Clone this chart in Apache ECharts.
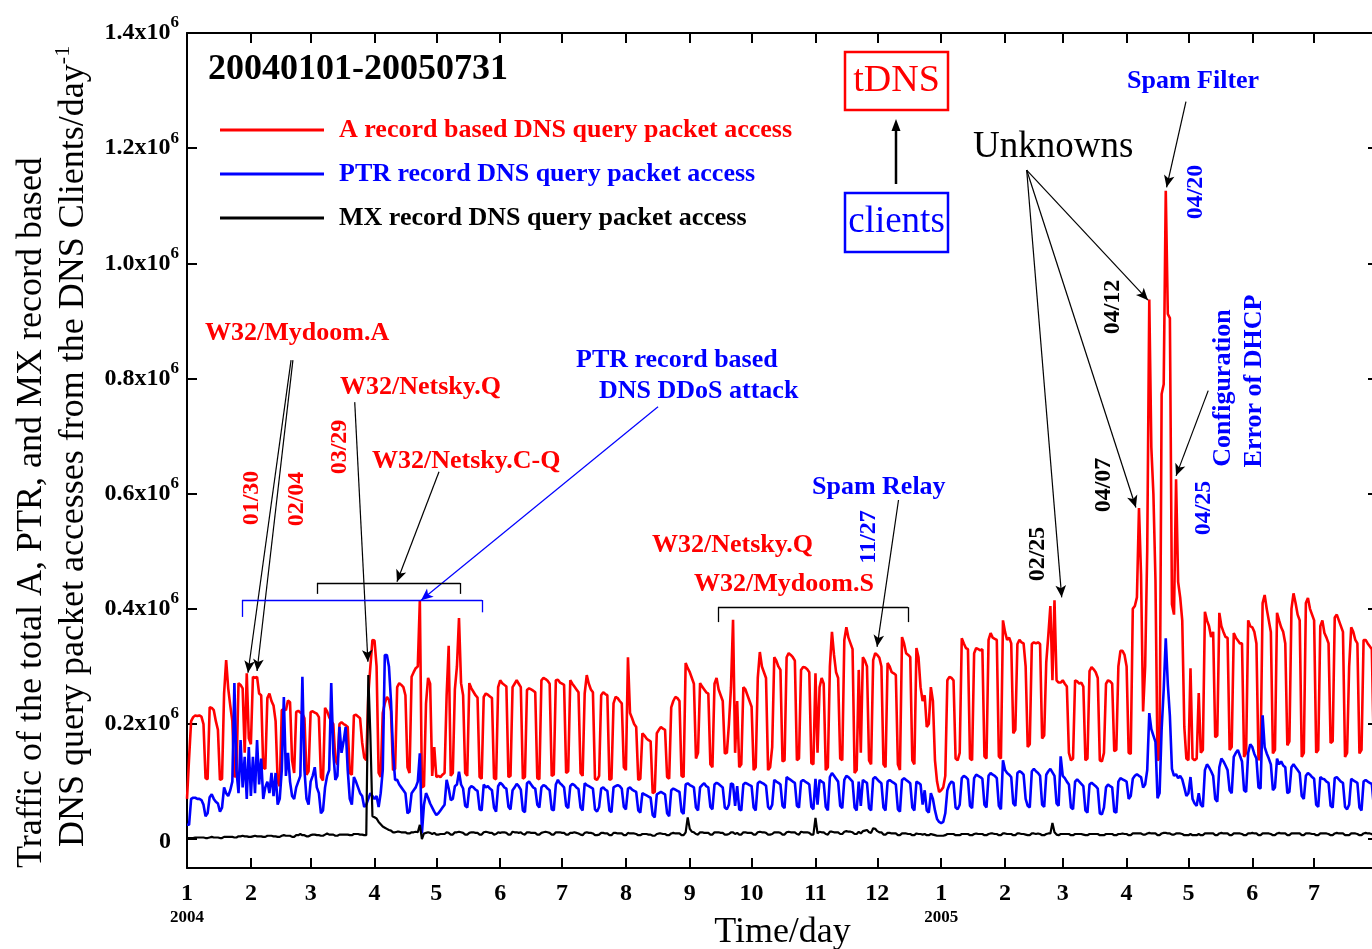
<!DOCTYPE html>
<html><head><meta charset="utf-8">
<script src="https://cdn.jsdelivr.net/npm/echarts@6/dist/echarts.min.js"></script>
<style>html,body{margin:0;padding:0;background:#fff}#c{width:1372px;height:949px}</style>
</head><body><div id="c"></div>
<script>
const SERIF = "'Liberation Serif','Times New Roman',serif";

// x axis: day offset from 2004-01-01; month-start ticks and labels
const monthStartDays = [0,31,60,91,121,152,182,213,244,274,305,335,366,397,425,456,486,517,547,578];
const monthLabels = ['1','2','3','4','5','6','7','8','9','10','11','12','1','2','3','4','5','6','7','8'];
const yearLabels = {0:'2004', 366:'2005'};
// y axis ticks (thousands of packets per day)
const yTickValues = [0,200,400,600,800,1000,1200,1400];

const seriesNames = ['A record based DNS query packet access','PTR record DNS query packet access','MX record DNS query packet access'];

// ---- A record (thousands/day). Head: Thu 2004-01-01 .. Sun 01-04; then weeks Mon..Sun ----
const aRecordHead = [70,140,205,212];
const aRecordWeeks = [
[215,214,215,213,200,106,104],[229,228,224,205,190,103,105],[253,311,262,232,205,108,112],[271,268,262,150,288,175,165],
[282,280,282,253,250,125,122],[245,253,240,232,205,100,92],[224,226,224,241,238,137,115],[221,223,220,218,210,112,118],
[221,222,220,218,212,108,102],[228,222,212,205,200,138,130],[200,203,200,198,195,115,112],[215,216,213,210,168,142,137],
[252,300,346,345,300,115,108],[219,236,247,242,222,120,122],[264,271,268,264,250,125,115],[282,290,297,300,415,90,92],
[236,280,270,110,160,108,110],[108,112,115,250,336,110,115],[260,300,384,271,250,115,110],[271,262,256,250,246,108,105],
[247,253,251,248,245,106,104],[264,276,271,268,265,108,110],[264,270,276,270,264,105,108],[259,262,260,258,255,106,104],
[276,280,278,275,270,110,112],[276,277,272,270,268,115,118],[276,270,265,260,255,115,110],[253,285,270,260,255,105,103],
[110,250,255,252,250,103,105],[236,247,245,240,236,125,120],[316,219,210,200,195,103,105],[184,180,175,172,170,80,82],
[184,190,195,192,190,108,105],[229,240,247,245,240,110,108],[306,297,290,280,270,140,150],[271,265,260,255,253,130,125],
[270,280,260,250,240,149,150],[200,264,381,150,240,125,130],[264,260,250,240,230,120,125],[280,325,300,290,280,120,125],
[160,316,310,300,294,135,137],[316,323,320,316,310,137,140],[294,299,298,295,290,132,130],[288,150,264,280,270,120,125],
[300,360,320,290,280,140,137],[346,368,350,340,330,115,120],[294,150,316,310,300,137,130],[311,323,320,315,300,130,125],
[306,300,290,288,285,130,120],[351,340,323,320,316,137,130],[332,316,264,240,250,195,200],[264,240,137,100,82,85,90],
[110,276,282,280,276,140,137],[150,349,340,332,330,140,137],[323,332,330,328,330,144,140],[346,358,350,348,346,144,140],
[380,360,346,350,340,184,190],[339,346,342,340,300,160,165],[339,342,340,342,339,175,180],[307,354,405,276,415,276,272],
[272,276,270,265,150,137,140],[276,274,270,272,265,137,140],[292,299,295,290,280,137,135],[150,270,276,274,270,153,155],
[300,327,327,320,300,150,148],[400,405,420,575,460,222,300],[500,937,680,600,450,137,140],[773,790,1126,912,905,408,390],
[625,447,420,380,195,140,137],[297,140,137,140,254,150,155],[395,380,370,351,360,177,180],[393,370,360,351,350,155,160],
[358,350,345,340,340,143,150],[380,370,368,360,340,137,145],[410,424,400,380,360,149,155],[393,380,368,360,340,163,170],
[400,427,410,390,380,143,150],[410,419,400,390,380,150,155],[370,380,358,350,340,167,170],[385,390,380,370,360,143,150],
[300,368,360,346,340,149,155],[346,346,340,335,330,150,160]
];

// ---- PTR record (thousands/day) ----
const ptrHead = [25,25,70,72];
const ptrWeeks = [
[72,70,70,68,60,40,45],[73,78,70,65,62,48,55],[90,80,75,85,100,271,120],[80,172,90,143,70,160,75],
[143,80,172,95,140,70,90],[100,80,115,75,115,60,70],[120,247,110,150,100,75,70],[90,100,110,282,120,70,60],
[100,110,125,90,80,45,50],[90,110,120,271,150,103,110],[195,150,170,195,120,70,60],[108,100,90,80,75,56,60],
[70,80,75,70,75,56,80],[120,320,320,300,240,150,103],[103,95,90,85,80,45,48],[80,85,90,100,149,10,60],
[80,72,62,55,48,42,45],[50,55,60,103,88,68,70],[92,95,117,95,88,58,55],[88,92,90,86,84,52,50],
[95,90,92,88,85,55,48],[92,98,95,90,88,56,52],[85,90,96,92,86,50,47],[97,100,95,90,88,60,55],
[90,94,92,88,85,52,50],[95,103,97,94,90,58,54],[92,96,94,90,87,55,50],[97,94,92,90,88,52,48],
[56,88,90,86,84,50,47],[90,92,94,92,88,56,52],[88,90,86,84,82,50,46],[80,78,76,74,72,42,38],
[78,80,82,80,78,45,40],[85,88,86,84,82,48,44],[95,97,94,92,90,55,50],[90,94,97,92,90,56,52],
[95,98,96,93,90,55,52],[60,97,95,58,92,52,50],[95,98,96,94,92,55,50],[97,100,98,96,93,56,52],
[60,103,100,98,95,58,54],[108,105,103,100,98,58,55],[100,103,100,98,95,56,52],[105,60,103,100,98,56,50],
[108,115,110,105,100,58,54],[103,110,108,104,100,55,50],[100,58,103,100,98,54,50],[105,108,104,100,97,55,50],
[100,103,100,98,95,52,48],[103,106,103,100,97,55,50],[100,98,95,60,85,50,46],[80,70,50,35,30,28,30],
[45,85,95,100,98,55,52],[60,106,110,108,104,58,54],[106,112,110,108,105,60,55],[110,115,112,110,106,58,52],
[137,120,115,112,108,62,58],[115,118,116,112,70,58,55],[118,122,118,115,110,60,56],[112,118,122,116,110,62,58],
[144,110,106,100,95,55,52],[100,104,100,96,92,50,46],[95,98,95,92,88,45,43],[55,90,95,92,90,48,46],
[100,106,104,102,100,70,75],[105,110,113,110,108,90,95],[120,219,191,180,169,71,80],[191,260,349,269,214,122,110],
[113,106,110,104,90,75,80],[108,70,62,58,80,60,56],[120,130,125,118,110,70,65],[125,140,135,128,120,85,80],
[143,150,155,145,135,85,82],[150,165,160,148,140,90,88],[215,160,149,140,130,85,90],[140,130,135,128,125,80,82],
[125,130,125,120,115,75,70],[110,115,112,108,105,60,56],[108,105,104,100,98,58,55],[106,108,104,100,98,56,52],
[60,105,102,100,98,55,50],[100,103,100,98,96,56,52]
];

// ---- MX record (thousands/day) ----
const mxHead = [2,2,2,2];
const mxWeeks = [
[3,3,3,3,3,2,2],[3,4,3,3,3,2,2],[4,4,4,4,4,3,3],[5,5,6,5,5,4,4],
[5,6,5,5,5,4,4],[6,6,6,5,5,4,4],[6,7,6,6,6,4,4],[7,7,9,7,7,5,5],
[7,8,8,7,7,6,6],[8,10,8,8,8,6,6],[8,8,8,8,8,7,7],[9,9,9,8,8,7,7],
[285,180,40,38,36,30,26],[22,20,18,16,15,12,12],[13,13,12,12,12,10,10],[12,12,13,12,25,0,10],
[11,12,11,9,11,8,8],[9,9,9,12,11,8,8],[12,12,13,12,11,8,8],[11,12,12,11,11,8,8],
[12,13,12,11,11,8,9],[12,11,12,12,11,8,8],[13,12,12,11,12,9,8],[12,12,11,11,11,8,8],
[11,12,13,12,11,8,8],[12,12,12,11,11,8,8],[11,11,12,11,10,8,7],[11,12,11,11,10,7,7],
[8,11,11,10,10,7,7],[11,11,10,10,10,7,7],[11,10,10,10,9,7,7],[9,9,9,8,8,6,6],
[9,10,10,9,9,7,7],[10,11,10,10,10,7,7],[12,38,18,13,12,9,8],[12,12,11,11,11,8,8],
[12,12,12,11,11,8,8],[9,12,12,9,11,8,8],[12,12,11,11,11,8,8],[12,13,12,12,11,8,8],
[9,12,12,12,11,8,8],[12,13,12,12,12,9,8],[13,12,12,12,11,8,8],[37,10,13,12,12,9,8],
[13,13,12,12,12,9,9],[13,14,13,13,12,9,9],[13,10,14,15,16,12,11],[19,18,14,12,12,8,8],
[11,11,10,10,10,7,7],[10,10,10,9,9,7,7],[10,9,9,8,9,7,7],[9,8,7,6,6,6,6],
[7,9,9,9,9,7,7],[7,9,9,9,9,7,7],[9,10,9,9,9,7,7],[9,10,10,9,9,7,7],
[10,10,9,9,9,7,7],[10,10,9,9,8,7,7],[10,10,9,10,9,7,7],[9,10,10,28,12,8,7],
[9,9,9,9,9,7,7],[9,9,9,9,8,7,7],[9,9,9,9,9,7,7],[7,9,9,9,9,7,7],
[9,9,10,9,9,7,7],[10,10,10,10,10,8,8],[10,11,10,10,10,7,7],[10,11,11,10,10,8,8],
[10,10,10,9,7,7,7],[9,7,7,7,9,7,7],[10,10,10,10,10,7,7],[10,11,10,10,10,7,7],
[10,10,10,10,9,7,7],[10,10,11,10,10,7,7],[10,10,10,10,9,7,7],[10,11,10,10,10,7,7],
[10,10,10,10,10,7,7],[10,10,10,9,9,7,7],[10,10,10,10,9,7,7],[10,11,10,10,10,7,7],
[7,10,10,10,9,7,7],[10,11,10,10,9,7,5]
];

// ---- annotation geometry in data coordinates [day, thousands] ----
const arrowLines = [
  {from:[50.5,832], to:[29.6,289], color:'#000', w:1.2},
  {from:[51.4,832], to:[34.0,292], color:'#000', w:1.2},
  {from:[81.4,759], to:[87.8,308], color:'#000', w:1.2},
  {from:[122.3,638], to:[101.9,447], color:'#000', w:1.2},
  {from:[228.6,751], to:[113.6,415], color:'#0000ff', w:1.2},
  {from:[345.3,589], to:[334.9,334], color:'#000', w:1.2},
  {from:[407.5,1162], to:[466.4,936], color:'#000', w:1.2},
  {from:[407.5,1162], to:[460.5,576], color:'#000', w:1.2},
  {from:[407.5,1162], to:[424.5,420], color:'#000', w:1.2},
  {from:[484.8,1281], to:[475.4,1132], color:'#000', w:1.2},
  {from:[495.6,779], to:[480.0,631], color:'#000', w:1.2}
];
const brackets = [
  {x0:63.1, x1:132.5, top:445, legL:426, legR:426, color:'#000'},
  {x0:26.7, x1:143.2, top:415.4, legL:386, legR:394, color:'#0000ff'},
  {x0:257.7, x1:349.9, top:403, legL:377, legR:377, color:'#000'}
];

const aRecord = aRecordHead.concat(...aRecordWeeks);
const ptr = ptrHead.concat(...ptrWeeks);
const mx = mxHead.concat(...mxWeeks);
const toXY = arr => arr.map((v,i)=>[i,v]);

const markData = [];
arrowLines.forEach(a=>{
  markData.push([{coord:a.from, symbol:'none', lineStyle:{color:a.color,width:a.w,type:'solid'}},{coord:a.to, symbol:'arrow'}]);
});
brackets.forEach(b=>{
  const ls = {color:b.color,width:1.3,type:'solid'};
  markData.push([{coord:[b.x0,b.legL],symbol:'none',lineStyle:ls},{coord:[b.x0,b.top],symbol:'none'}]);
  markData.push([{coord:[b.x0,b.top],symbol:'none',lineStyle:ls},{coord:[b.x1,b.top],symbol:'none'}]);
  markData.push([{coord:[b.x1,b.top],symbol:'none',lineStyle:ls},{coord:[b.x1,b.legR],symbol:'none'}]);
});

function txt(x,y,text,color,size,weight,rot,align){
  return {type:'text', x:x, y:y, z:100, silent:true, rotation: rot?Math.PI/2:0,
    style:{text:text, fill:color, font: weight+' '+size+'px '+SERIF,
      textAlign: align||'left', align: align||'left', textVerticalAlign:'middle', verticalAlign:'middle'}};
}
const RED='#ff0000', BLUE='#0000ff', BLK='#000000';
const graphics = [
  txt(32,868,'Traffic of the total A, PTR, and MX record based',BLK,36,'normal',true,'left'),
  {type:'text', x:74, y:847, z:100, silent:true, rotation:Math.PI/2,
    style:{text:'DNS query packet accesses from the DNS Clients/day{s|-1}', fill:BLK, font:'normal 36px '+SERIF,
      textAlign:'left', align:'left', textVerticalAlign:'middle', verticalAlign:'middle',
      rich:{s:{fontSize:22, fontFamily:SERIF, fill:BLK, padding:[0,0,22,0]}}}},
  txt(208,70,'20040101-20050731',BLK,36,'bold',false,'left'),
  txt(205,333,'W32/Mydoom.A',RED,26,'bold',false,'left'),
  txt(251.5,498,'01/30',RED,24,'bold',true,'center'),
  txt(297,499,'02/04',RED,24,'bold',true,'center'),
  txt(340,387,'W32/Netsky.Q',RED,26,'bold',false,'left'),
  txt(340,447,'03/29',RED,24,'bold',true,'center'),
  txt(372,461,'W32/Netsky.C-Q',RED,26,'bold',false,'left'),
  txt(576,360,'PTR record based',BLUE,26,'bold',false,'left'),
  txt(599,391,'DNS DDoS attack',BLUE,26,'bold',false,'left'),
  txt(652,545,'W32/Netsky.Q',RED,26,'bold',false,'left'),
  txt(694,584,'W32/Mydoom.S',RED,26,'bold',false,'left'),
  txt(812,487,'Spam Relay',BLUE,26,'bold',false,'left'),
  txt(869,537,'11/27',BLUE,24,'bold',true,'center'),
  txt(1038,554,'02/25',BLK,24,'bold',true,'center'),
  txt(1103.5,485,'04/07',BLK,24,'bold',true,'center'),
  txt(1113,307,'04/12',BLK,24,'bold',true,'center'),
  txt(973,147,'Unknowns',BLK,37,'normal',false,'left'),
  txt(1127,81,'Spam Filter',BLUE,26,'bold',false,'left'),
  txt(1195.5,192,'04/20',BLUE,24,'bold',true,'center'),
  txt(1223,388,'Configuration',BLUE,26,'bold',true,'center'),
  txt(1254,381,'Error of DHCP',BLUE,26,'bold',true,'center'),
  txt(1204,508,'04/25',BLUE,24,'bold',true,'center'),
  {type:'rect', z:100, silent:true, shape:{x:845,y:52,width:103,height:58}, style:{fill:'none',stroke:RED,lineWidth:2.5}},
  {type:'rect', z:100, silent:true, shape:{x:845,y:193,width:103,height:59}, style:{fill:'none',stroke:BLUE,lineWidth:2.5}},
  txt(896.5,81,'tDNS',RED,38,'normal',false,'center'),
  txt(896.5,222,'clients',BLUE,37,'normal',false,'center'),
  {type:'line', z:100, silent:true, shape:{x1:896,y1:184,x2:896,y2:128}, style:{stroke:BLK,lineWidth:2.5}},
  {type:'polygon', z:100, silent:true, shape:{points:[[896,119],[891.5,131],[900.5,131]]}, style:{fill:BLK}}
];

const chart = echarts.init(document.getElementById('c'), null, {renderer:'canvas'});
const axisLine = {show:true, onZero:false, lineStyle:{color:'#000', width:2}};
chart.setOption({
  animation:false,
  backgroundColor:'#fff',
  grid:{left:187, right:-6, top:33, bottom:81, containLabel:false, outerBoundsMode:'none'},
  legend:{
    left:220, top:115, orient:'vertical', padding:0, itemWidth:104, itemHeight:3, itemGap:14, icon:'rect',
    selectedMode:false,
    textStyle:{fontSize:26, fontWeight:'bold', fontFamily:SERIF, lineHeight:30, padding:[0,0,0,10]},
    data:[{name:seriesNames[0], textStyle:{color:RED}},{name:seriesNames[1], textStyle:{color:BLUE}},{name:seriesNames[2], textStyle:{color:BLK}}]
  },
  xAxis:[{
    type:'value', min:0, max:578, position:'bottom',
    axisLine:axisLine, splitLine:{show:false},
    axisTick:{show:true, inside:true, length:10, lineStyle:{color:'#000',width:2}, customValues:monthStartDays},
    axisLabel:{show:true, margin:13, customValues:monthStartDays, color:'#000',
      formatter:function(v){ const i = monthStartDays.indexOf(Math.round(v)); const m = monthLabels[i];
        return yearLabels[Math.round(v)] ? '{m|'+m+'}\n{y|'+yearLabels[Math.round(v)]+'}' : '{m|'+m+'}'; },
      rich:{m:{fontSize:24, fontWeight:'bold', fontFamily:SERIF, lineHeight:26, color:'#000'},
            y:{fontSize:17, fontWeight:'bold', fontFamily:SERIF, lineHeight:22, color:'#000'}}},
    name:'Time/day', nameLocation:'middle', nameGap:47, nameMoveOverlap:false,
    nameTextStyle:{fontSize:36, fontFamily:SERIF, color:'#000'}
  },{
    type:'value', min:0, max:578, position:'top',
    axisLine:axisLine, splitLine:{show:false},
    axisTick:{show:true, inside:true, length:10, lineStyle:{color:'#000',width:2}, customValues:monthStartDays},
    axisLabel:{show:false, customValues:monthStartDays}
  }],
  yAxis:[{
    type:'value', min:-50, max:1400, position:'left',
    axisLine:axisLine, splitLine:{show:false},
    axisTick:{show:true, inside:true, length:10, lineStyle:{color:'#000',width:2}, customValues:yTickValues},
    axisLabel:{show:true, margin:8, customValues:yTickValues, color:'#000',
      formatter:function(v){ if(v===0) return '{z|0}'; return '{b|'+(v/1000).toFixed(1)+'x10}{s|6}'; },
      rich:{b:{fontSize:24, fontWeight:'bold', fontFamily:SERIF, color:'#000'},
            s:{fontSize:17, fontWeight:'bold', fontFamily:SERIF, color:'#000', padding:[0,0,20,0]},
            z:{fontSize:24, fontWeight:'bold', fontFamily:SERIF, color:'#000', padding:[6,8,0,0]}}}
  },{
    type:'value', min:-50, max:1400, position:'right',
    axisLine:axisLine, splitLine:{show:false},
    axisTick:{show:true, inside:true, length:10, lineStyle:{color:'#000',width:2}, customValues:yTickValues},
    axisLabel:{show:false, customValues:yTickValues}
  }],
  series:[
    {name:seriesNames[0], type:'line', data:toXY(aRecord), symbol:'none', color:RED, lineStyle:{width:2.6, color:RED}, z:2, silent:true},
    {name:seriesNames[1], type:'line', data:toXY(ptr), symbol:'none', color:BLUE, lineStyle:{width:2.6, color:BLUE}, z:3, silent:true},
    {name:seriesNames[2], type:'line', data:toXY(mx), symbol:'none', color:BLK, lineStyle:{width:2.2, color:BLK}, z:4, silent:true,
     markLine:{silent:true, symbol:['none','arrow'], symbolSize:[8,12], label:{show:false}, emphasis:{disabled:true},
       animation:false, data:markData}}
  ],
  graphic:graphics
});
</script></body></html>
